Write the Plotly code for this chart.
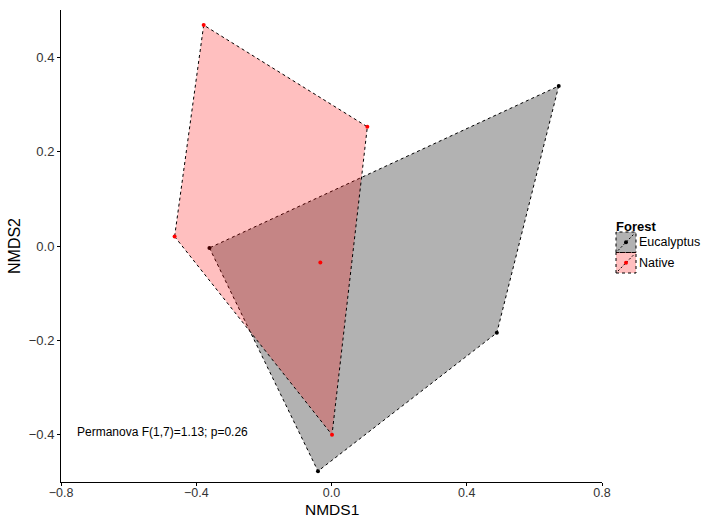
import plotly.graph_objects as go

# NMDS site scores by forest type
euc_x = [-0.361, 0.672, 0.489, -0.040]
euc_y = [-0.004, 0.339, -0.184, -0.477]
nat_x = [-0.378, 0.106, -0.464, -0.033, 0.0015]
nat_y = [0.468, 0.2525, 0.020, -0.035, -0.400]

x_ticks = [-0.8, -0.4, 0.0, 0.4, 0.8]
y_ticks = [-0.4, -0.2, 0.0, 0.2, 0.4]
stat_label = "Permanova F(1,7)=1.13; p=0.26"
legend_title = "Forest"
x_title = "NMDS1"
y_title = "NMDS2"

W, H = 707, 518
L, R, T, B = 61, 105, 10, 36
PW, PH = W - L - R, H - T - B


def hull(xs, ys):
    """Convex hull (monotone chain), returned closed."""
    pts = sorted(zip(xs, ys))

    def cross(o, a, b):
        return (a[0] - o[0]) * (b[1] - o[1]) - (a[1] - o[1]) * (b[0] - o[0])

    lower, upper = [], []
    for p in pts:
        while len(lower) >= 2 and cross(lower[-2], lower[-1], p) <= 0:
            lower.pop()
        lower.append(p)
    for p in reversed(pts):
        while len(upper) >= 2 and cross(upper[-2], upper[-1], p) <= 0:
            upper.pop()
        upper.append(p)
    h = lower[:-1] + upper[:-1]
    h.append(h[0])
    return [p[0] for p in h], [p[1] for p in h]


def px(xp):
    return (xp - L) / PW


def py(yp):
    return (H - B - yp) / PH


def fmt(v):
    return f"{v:.1f}".replace("-", "\u2212")


groups = [
    ("Eucalyptus", euc_x, euc_y, "rgba(0,0,0,0.30)", "black"),
    ("Native", nat_x, nat_y, "rgba(255,0,0,0.25)", "red"),
]

DASH = "3px,3px"
fig = go.Figure()
for name, xs, ys, fill, pcol in groups:
    hx, hy = hull(xs, ys)
    fig.add_trace(go.Scatter(
        x=hx, y=hy, mode="lines", fill="toself", fillcolor=fill,
        line=dict(color="black", width=1, dash=DASH),
        name=name, hoverinfo="skip", showlegend=False,
    ))
    fig.add_trace(go.Scatter(
        x=xs, y=ys, mode="markers",
        marker=dict(color=pcol, size=4),
        name=name, showlegend=False,
    ))

fig.add_annotation(
    x=-0.5, y=-0.395, text=stat_label, showarrow=False,
    xanchor="center", yanchor="middle",
    font=dict(size=12, color="black"),
)

# x-axis title placed just under the tick labels
fig.add_annotation(
    x=0.5, y=py(509.5), xref="paper", yref="paper", text=x_title,
    showarrow=False, xanchor="center", yanchor="middle",
    font=dict(size=15.5, color="black"), borderpad=0,
)

# Legend drawn in the right margin: title, key boxes and labels
fig.add_annotation(
    x=px(614), y=py(226), xref="paper", yref="paper",
    text=f"<b>{legend_title}</b>", showarrow=False,
    xanchor="left", yanchor="middle", font=dict(size=13, color="black"),
)
key_top = 232
key_size = 20.5
for i, (name, _, _, fill, pcol) in enumerate(groups):
    y0 = key_top + i * key_size
    y1 = y0 + key_size
    x0, x1 = 616, 636
    fig.add_shape(
        type="rect", xref="paper", yref="paper",
        x0=px(x0), x1=px(x1), y0=py(y1), y1=py(y0),
        fillcolor=fill, line=dict(color="black", width=1, dash=DASH),
        layer="above",
    )
    fig.add_shape(
        type="line", xref="paper", yref="paper",
        x0=px(x0 + 2), x1=px(x1 - 2), y0=py(y1 - 2), y1=py(y0 + 2),
        line=dict(color="black", width=1, dash="2px,2px"),
        layer="above",
    )
    cx, cy = (x0 + x1) / 2, (y0 + y1) / 2
    fig.add_shape(
        type="circle", xref="paper", yref="paper",
        x0=px(cx - 2), x1=px(cx + 2), y0=py(cy + 2), y1=py(cy - 2),
        fillcolor=pcol, line=dict(width=0), layer="above",
    )
    fig.add_annotation(
        x=px(x1 + 1), y=py(cy), xref="paper", yref="paper",
        text=name, showarrow=False, xanchor="left", yanchor="middle",
        font=dict(size=12.5, color="black"),
    )

axis_common = dict(
    showgrid=False, zeroline=False, showline=True, linecolor="black",
    linewidth=1, ticks="outside", ticklen=3, tickcolor="black",
    tickfont=dict(size=13, color="#333333"),
    title_font=dict(size=16, color="black"),
)

fig.update_layout(
    width=W, height=H,
    margin=dict(l=L, r=R, t=T, b=B, autoexpand=False),
    paper_bgcolor="white", plot_bgcolor="white",
    font=dict(family="Liberation Sans, Arial, sans-serif"),
    showlegend=False,
    xaxis=dict(range=[-0.8, 0.8], tickvals=x_ticks,
               ticktext=[fmt(v) for v in x_ticks],
               ticklabelstandoff=-4, **axis_common),
    yaxis=dict(range=[-0.5, 0.5], tickvals=y_ticks,
               ticktext=[fmt(v) for v in y_ticks],
               title=dict(text=y_title, standoff=4), **axis_common),
)
fig.update_xaxes(tickfont=dict(size=12.5, color="#333333"))

fig.write_html("out.html")
